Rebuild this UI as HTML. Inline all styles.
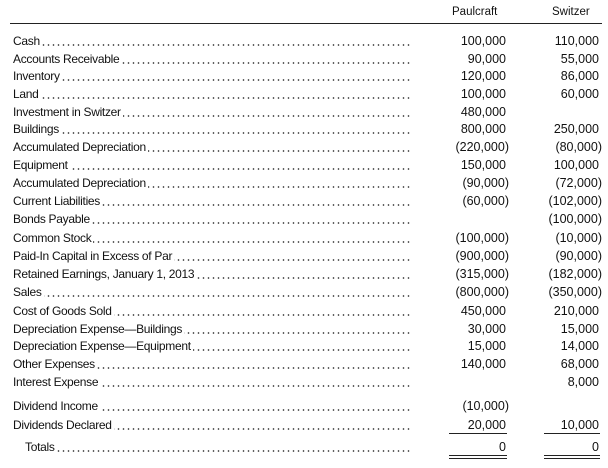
<!DOCTYPE html>
<html><head><meta charset="utf-8"><style>
body{margin:0;width:608px;height:468px;background:#fff;font-family:"Liberation Sans",sans-serif;font-size:12px;color:#111;position:relative;overflow:hidden}
.r{position:absolute;left:0;width:608px;height:16px;line-height:16px}
.l{position:absolute;left:13px;background:#fff;padding-right:2px;white-space:nowrap;letter-spacing:-0.3px}
.d{position:absolute;left:13px;width:398px;top:11px;height:2px;background-image:radial-gradient(circle,#333 0.7px,transparent 0.9px);background-size:5px 2px;background-position:right}
.a,.b{position:absolute;text-align:right;width:90px;font-size:12.5px}
.a{left:416px}.b{left:509px}
.p{margin-right:-3px}
.h{position:absolute;top:6px;font-size:11.5px}
.ln{position:absolute;height:1px;background:#222}
</style></head><body>
<div class="h" style="left:452px">Paulcraft</div>
<div class="h" style="left:552px">Switzer</div>
<div class="ln" style="left:10px;top:23px;width:592px"></div>

<div class="r" style="top:33px"><div class="d"></div><span class="l">Cash</span><span class="a">100,000</span><span class="b">110,000</span></div>
<div class="r" style="top:51px"><div class="d"></div><span class="l">Accounts Receivable</span><span class="a">90,000</span><span class="b">55,000</span></div>
<div class="r" style="top:68px"><div class="d"></div><span class="l">Inventory</span><span class="a">120,000</span><span class="b">86,000</span></div>
<div class="r" style="top:86px"><div class="d"></div><span class="l">Land</span><span class="a">100,000</span><span class="b">60,000</span></div>
<div class="r" style="top:104px"><div class="d"></div><span class="l">Investment in Switzer</span><span class="a">480,000</span></div>
<div class="r" style="top:121px"><div class="d"></div><span class="l">Buildings</span><span class="a">800,000</span><span class="b">250,000</span></div>
<div class="r" style="top:139px"><div class="d"></div><span class="l">Accumulated Depreciation</span><span class="a"><span class="p">(220,000)</span></span><span class="b"><span class="p">(80,000)</span></span></div>
<div class="r" style="top:157px"><div class="d"></div><span class="l">Equipment</span><span class="a">150,000</span><span class="b">100,000</span></div>
<div class="r" style="top:175px"><div class="d"></div><span class="l">Accumulated Depreciation</span><span class="a"><span class="p">(90,000)</span></span><span class="b"><span class="p">(72,000)</span></span></div>
<div class="r" style="top:193px"><div class="d"></div><span class="l">Current Liabilities</span><span class="a"><span class="p">(60,000)</span></span><span class="b"><span class="p">(102,000)</span></span></div>
<div class="r" style="top:211px"><div class="d"></div><span class="l">Bonds Payable</span><span class="b"><span class="p">(100,000)</span></span></div>
<div class="r" style="top:230px"><div class="d"></div><span class="l">Common Stock</span><span class="a"><span class="p">(100,000)</span></span><span class="b"><span class="p">(10,000)</span></span></div>
<div class="r" style="top:248px"><div class="d"></div><span class="l">Paid-In Capital in Excess of Par</span><span class="a"><span class="p">(900,000)</span></span><span class="b"><span class="p">(90,000)</span></span></div>
<div class="r" style="top:266px"><div class="d"></div><span class="l">Retained Earnings, January 1, 2013</span><span class="a"><span class="p">(315,000)</span></span><span class="b"><span class="p">(182,000)</span></span></div>
<div class="r" style="top:284px"><div class="d"></div><span class="l">Sales</span><span class="a"><span class="p">(800,000)</span></span><span class="b"><span class="p">(350,000)</span></span></div>
<div class="r" style="top:303px"><div class="d"></div><span class="l">Cost of Goods Sold</span><span class="a">450,000</span><span class="b">210,000</span></div>
<div class="r" style="top:321px"><div class="d"></div><span class="l">Depreciation Expense—Buildings</span><span class="a">30,000</span><span class="b">15,000</span></div>
<div class="r" style="top:338px"><div class="d"></div><span class="l">Depreciation Expense—Equipment</span><span class="a">15,000</span><span class="b">14,000</span></div>
<div class="r" style="top:356px"><div class="d"></div><span class="l">Other Expenses</span><span class="a">140,000</span><span class="b">68,000</span></div>
<div class="r" style="top:374px"><div class="d"></div><span class="l">Interest Expense</span><span class="b">8,000</span></div>
<div class="r" style="top:398px"><div class="d"></div><span class="l">Dividend Income</span><span class="a"><span class="p">(10,000)</span></span></div>
<div class="r" style="top:417px"><div class="d"></div><span class="l">Dividends Declared</span><span class="a">20,000</span><span class="b">10,000</span></div>
<div class="ln" style="left:449px;top:433px;width:58px"></div>
<div class="ln" style="left:544px;top:433px;width:56px"></div>
<div class="r" style="top:439px"><div class="d" style="left:25px;width:386px"></div><span class="l" style="left:25px">Totals</span><span class="a">0</span><span class="b">0</span></div>
<div class="ln" style="left:449px;top:455px;width:58px"></div>
<div class="ln" style="left:449px;top:458px;width:58px"></div>
<div class="ln" style="left:544px;top:455px;width:56px"></div>
<div class="ln" style="left:544px;top:458px;width:56px"></div>
</body></html>
